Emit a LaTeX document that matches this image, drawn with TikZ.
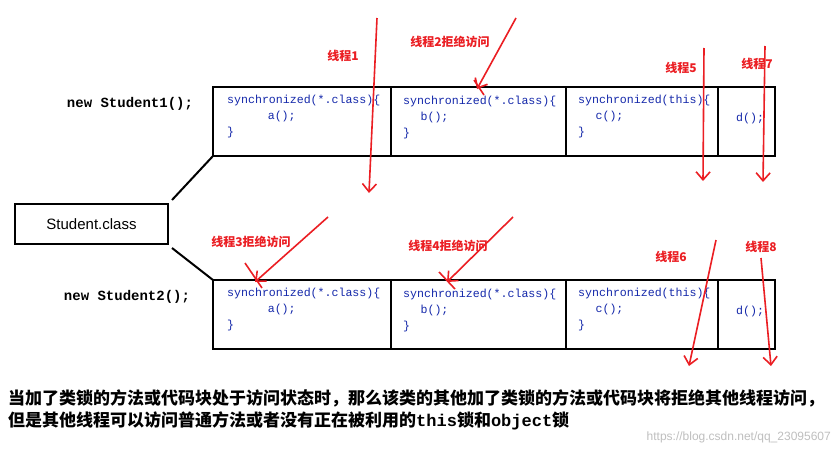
\documentclass[tikz,border=0pt]{standalone}
\usepackage{fontspec}
\setmainfont{Liberation Sans}
\newfontfamily\cjk{Noto Sans CJK SC}
\newfontfamily\codef{Liberation Mono}
\usetikzlibrary{arrows.meta}
\definecolor{codeblue}{RGB}{20,40,170}
\definecolor{thred}{RGB}{235,30,35}
\tikzset{
  blk/.style={draw=black,line width=2.2pt},
  code/.style={anchor=north west,align=left,text=codeblue,font=\codef\fontsize{11.6}{16}\selectfont,inner sep=0pt},
  thr/.style={draw=thred,line width=1.6pt,-{Straight Barb[length=8pt,width=14pt]}},
  xmark/.style={draw=thred,line width=1.6pt},
  tlab/.style={text=thred,font=\cjk\bfseries\fontsize{12}{13}\selectfont,inner sep=0pt},
  newl/.style={font=\codef\bfseries\fontsize{14}{16}\selectfont,inner sep=0pt},
  note/.style={anchor=west,font=\cjk\bfseries\fontsize{17}{19}\selectfont,inner sep=0pt}
}
\begin{document}
\begin{tikzpicture}[x=1pt,y=-1pt]
\useasboundingbox[fill=white] (0,0) rectangle (839,455);
% rows
\foreach \r/\y in {1/87,2/280}{
  \draw[blk] (213,\y) rectangle (775,\y+69);
  \draw[blk] (391,\y) -- (391,\y+69);
  \draw[blk] (566,\y) -- (566,\y+69);
  \draw[blk] (718,\y) -- (718,\y+69);
}
\node[code] (a1) at (227,95) {synchronized(*.class)\{\\\hspace{3.5em}a();\\\}};
\node[code] (b1) at (403,96) {synchronized(*.class)\{\\\hspace{1.5em}b();\\\}};
\node[code] (c1) at (578,95) {synchronized(this)\{\\\hspace{1.5em}c();\\\}};
\node[code,anchor=west] (d1) at (736,118) {d();};
\node[code] (a2) at (227,288) {synchronized(*.class)\{\\\hspace{3.5em}a();\\\}};
\node[code] (b2) at (403,289) {synchronized(*.class)\{\\\hspace{1.5em}b();\\\}};
\node[code] (c2) at (578,288) {synchronized(this)\{\\\hspace{1.5em}c();\\\}};
\node[code,anchor=west] (d2) at (736,311) {d();};
\node[newl] (s1) at (130,104) {new Student1();};
\node[newl] (s2) at (127,297) {new Student2();};
\node[draw,line width=2pt,minimum width=153pt,minimum height=40pt,font=\fontsize{15}{17}\selectfont] (sc) at (91.5,224) {Student.class};
\coordinate (r1) at (213,156);
\coordinate (r2) at (213,280);
\draw[line width=2pt] (sc.north east) ++(3,-3) -- (r1);
\draw[line width=2pt] (sc.south east) ++(3,3) -- (r2);
% threads
\node[tlab] (l1) at (343,56) {线程1};
\node[tlab] (l2) at (450,42) {线程2拒绝访问};
\node[tlab] (l5) at (681,68) {线程5};
\node[tlab] (l7) at (757,64) {线程7};
\node[tlab] (l3) at (251,242) {线程3拒绝访问};
\node[tlab] (l4) at (448,246) {线程4拒绝访问};
\node[tlab] (l6) at (671,257) {线程6};
\node[tlab] (l8) at (761,247) {线程8};
\coordinate (t1a) at (377,18); \coordinate (t1b) at (369,193);
\coordinate (t2a) at (516,18); \coordinate (t2b) at (477,89);
\coordinate (t5a) at (704,48); \coordinate (t5b) at (703,181);
\coordinate (t7a) at (765,46); \coordinate (t7b) at (763,182);
\coordinate (t3a) at (328,217); \coordinate (t3b) at (255,282);
\coordinate (t4a) at (513,217); \coordinate (t4b) at (447,282);
\coordinate (t6a) at (716,240); \coordinate (t6b) at (689,366);
\coordinate (t8a) at (761,258); \coordinate (t8b) at (771,366);
\foreach \t in {1,2,5,7,3,4,6,8}{\draw[thr] (t\t a) -- (t\t b);}
\draw[xmark] (474,80) -- (484,95);
\draw[xmark] (245,263) -- (262,288);
\draw[xmark] (439,272) -- (455,289);
% note
\node[note] (n1) at (8,398) {当加了类锁的方法或代码块处于访问状态时，那么该类的其他加了类锁的方法或代码块将拒绝其他线程访问，};
\node[note] (n2) at (8,421) {但是其他线程可以访问普通方法或者没有正在被利用的{\codef this}锁和{\codef object}锁};
\node[anchor=east,text=black!25,font=\fontsize{12}{13}\selectfont,inner sep=0pt] (wm) at (831,437) {https://blog.csdn.net/qq\_23095607};
\end{tikzpicture}
\end{document}
